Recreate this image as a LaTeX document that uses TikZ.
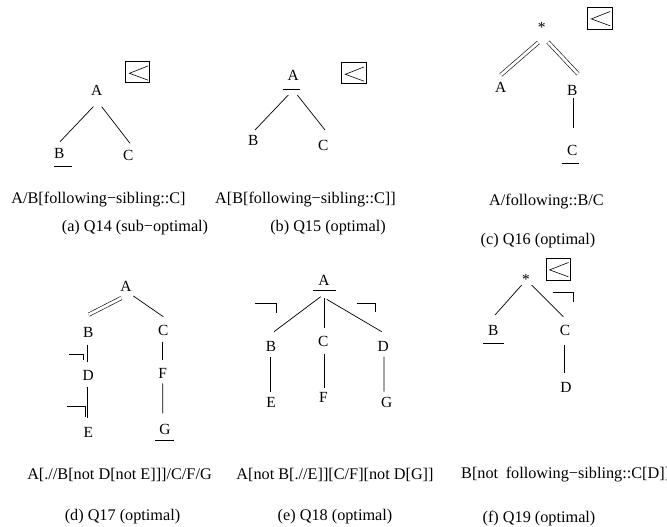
\documentclass[tikz,border=0pt]{standalone}
\usepackage{fontspec}
\setmainfont{Liberation Serif}
\begin{document}
\begin{tikzpicture}[x=1bp,y=-1bp,
  lbl/.style={inner sep=0pt, font=\fontsize{15.5}{18}\selectfont},
  txt/.style={inner sep=0pt, font=\fontsize{16.3}{19}\selectfont},
  edge/.style={line width=0.7bp},
  dedge/.style={double, double distance=2.8bp, line width=0.6bp},
  negmark/.style={line width=0.7bp},
  ordbox/.style={draw, line width=0.7bp, minimum width=24bp, minimum height=21bp, inner sep=0pt,
    path picture={\draw[line width=0.6bp]
      ([shift={(22.4,4.2)}]path picture bounding box.north west) --
      ([shift={(3.6,11.6)}]path picture bounding box.north west) --
      ([shift={(22.4,18.5)}]path picture bounding box.north west);}}
]
\useasboundingbox (0,0) rectangle (667,527);
\clip (0,0) rectangle (667,527);

% ---------- (a) ----------
\node[lbl] (aA) at (96.7,90) {A};
\node[lbl] (aB) at (59.3,153.3) {B};
\node[lbl] (aC) at (128.3,155) {C};
\node[ordbox] (aO) at (137.8,72.2) {};
\draw[edge] ([shift={(-3.4,16.7)}]aA.center) -- ([shift={(0.7,-11.6)}]aB.center);
\draw[edge] ([shift={(5,16.7)}]aA.center) -- ([shift={(1.7,-11.7)}]aC.center);
\draw[edge] ([shift={(-5,13.4)}]aB.center) -- ([shift={(12.4,13.4)}]aB.center);
\node[txt] (aT) at (98.5,200) {A/B[following−sibling::C]};
\node[txt] (aK) at (135,227.5) {(a) Q14 (sub−optimal)};

% ---------- (b) ----------
\node[lbl] (bA) at (293.3,75) {A};
\node[lbl] (bB) at (253.3,140) {B};
\node[lbl] (bC) at (323.3,145) {C};
\node[ordbox, minimum width=25bp, minimum height=20.6bp] (bO) at (354.2,73) {};
\draw[edge] ([shift={(-10.6,14)}]bA.center) -- ([shift={(6.7,14)}]bA.center);
\draw[edge] ([shift={(-5,20)}]bA.center) -- ([shift={(1.7,-10)}]bB.center);
\draw[edge] ([shift={(4,20)}]bA.center) -- ([shift={(1.7,-15)}]bC.center);
\node[txt] (bT) at (305.5,200) {A[B[following−sibling::C]]};
\node[txt] (bK) at (328,227.5) {(b) Q15 (optimal)};

% ---------- (c) ----------
\node[lbl] (cS) at (541.7,27.5) {*};
\node[lbl] (cA) at (500.7,87.3) {A};
\node[lbl] (cB) at (572.3,90) {B};
\node[lbl] (cC) at (572.3,150) {C};
\node[ordbox, minimum width=25bp, minimum height=22bp] (cO) at (600.2,18.3) {};
\draw[dedge] ([shift={(-3.4,15)}]cS.center) -- ([shift={(0.1,-12.3)}]cA.center);
\draw[dedge] ([shift={(6.3,14.5)}]cS.center) -- ([shift={(5.7,-16)}]cB.center);
\draw[edge] ([shift={(1,8.3)}]cB.center) -- ([shift={(1,-22.3)}]cC.center);
\draw[edge] ([shift={(-10.6,13.3)}]cC.center) -- ([shift={(6.7,13.3)}]cC.center);
\node[txt] (cT) at (546.5,202) {A/following::B/C};
\node[txt] (cK) at (538,241) {(c) Q16 (optimal)};

% ---------- (d) ----------
\node[lbl] (dA) at (126,286) {A};
\node[lbl] (dB) at (88.3,332.7) {B};
\node[lbl] (dC) at (163.3,330) {C};
\node[lbl] (dD) at (88.3,375) {D};
\node[lbl] (dE) at (88.3,432.7) {E};
\node[lbl] (dF) at (162.7,373.3) {F};
\node[lbl] (dG) at (165,429.3) {G};
\draw[dedge] ([shift={(-4.7,12)}]dA.center) -- ([shift={(0.4,-18)}]dB.center);
\draw[edge] ([shift={(7.3,10)}]dA.center) -- ([shift={(0,-13.3)}]dC.center);
\draw[edge] ([shift={(-1,12.3)}]dB.center) -- ([shift={(-1,-13.3)}]dD.center);
\draw[edge] ([shift={(-1,11.7)}]dD.center) -- ([shift={(-1,-14.4)}]dE.center);
\draw[edge] ([shift={(-0.6,11.7)}]dC.center) -- ([shift={(0,-13.3)}]dF.center);
\draw[edge] ([shift={(0,10)}]dF.center) -- ([shift={(-2.3,-16)}]dG.center);
\draw[edge] ([shift={(-10,10.7)}]dG.center) -- ([shift={(9,10.7)}]dG.center);
\draw[negmark] (69.3,354) -- (83.3,354) -- (83.3,360);
\draw[negmark] (66.7,406) -- (85,406) -- (85,416.7);
\node[txt] (dT) at (119.5,475) {A[.//B[not D[not E]]]/C/F/G};
\node[txt] (dK) at (122.5,517) {(d) Q17 (optimal)};

% ---------- (e) ----------
\node[lbl] (eA) at (324,280.7) {A};
\node[lbl] (eB) at (271,346) {B};
\node[lbl] (eC) at (323.3,341.7) {C};
\node[lbl] (eD) at (383.3,346) {D};
\node[lbl] (eE) at (271,402.7) {E};
\node[lbl] (eF) at (323.3,397.7) {F};
\node[lbl] (eG) at (386.7,402.7) {G};
\draw[edge] ([shift={(-11.3,9.3)}]eA.center) -- ([shift={(12,9.3)}]eA.center);
\draw[edge] ([shift={(-3.3,16)}]eA.center) -- ([shift={(3,-14.3)}]eB.center);
\draw[edge] ([shift={(0.3,17.6)}]eA.center) -- ([shift={(1,-13.4)}]eC.center);
\draw[edge] ([shift={(2.7,18.6)}]eA.center) -- ([shift={(-1.6,-14.3)}]eD.center);
\draw[dedge, double distance=5bp] ([shift={(2,10.7)}]eB.center) -- ([shift={(2,-11)}]eE.center);
\draw[edge] ([shift={(1,12.3)}]eC.center) -- ([shift={(1,-9.4)}]eF.center);
\draw[edge] ([shift={(0.7,10.7)}]eD.center) -- ([shift={(-2.7,-11)}]eG.center);
\draw[negmark] (255,303.3) -- (276.7,303.3) -- (276.7,313.3);
\draw[negmark] (357.3,303.3) -- (375,303.3) -- (375,311.7);
\node[txt] (eT) at (335,475) {A[not B[.//E]][C/F][not D[G]]};
\node[txt] (eK) at (335,517) {(e) Q18 (optimal)};

% ---------- (f) ----------
\node[lbl] (fS) at (526,279.2) {*};
\node[lbl] (fB) at (493.3,330) {B};
\node[lbl] (fC) at (565,330) {C};
\node[lbl] (fD) at (566,387.3) {D};
\node[ordbox, minimum width=24bp, minimum height=22bp] (fO) at (558,269.3) {};
\draw[edge] ([shift={(-4.3,5.8)}]fS.center) -- ([shift={(1.7,-15)}]fB.center);
\draw[edge] ([shift={(5.7,5.8)}]fS.center) -- ([shift={(-1.7,-13.3)}]fC.center);
\draw[edge] ([shift={(-0.7,15)}]fC.center) -- ([shift={(-1.7,-14)}]fD.center);
\draw[edge] ([shift={(-10,13.3)}]fB.center) -- ([shift={(10.7,13.3)}]fB.center);
\draw[negmark] (552.7,292.3) -- (573.3,292.3) -- (573.3,301.7);
\node[txt, anchor=west] (fT) at (461,475) {B[not\hspace{3.5bp} following−sibling::C[D]]};
\node[txt] (fK) at (539,518.5) {(f) Q19 (optimal)};
\end{tikzpicture}
\end{document}
